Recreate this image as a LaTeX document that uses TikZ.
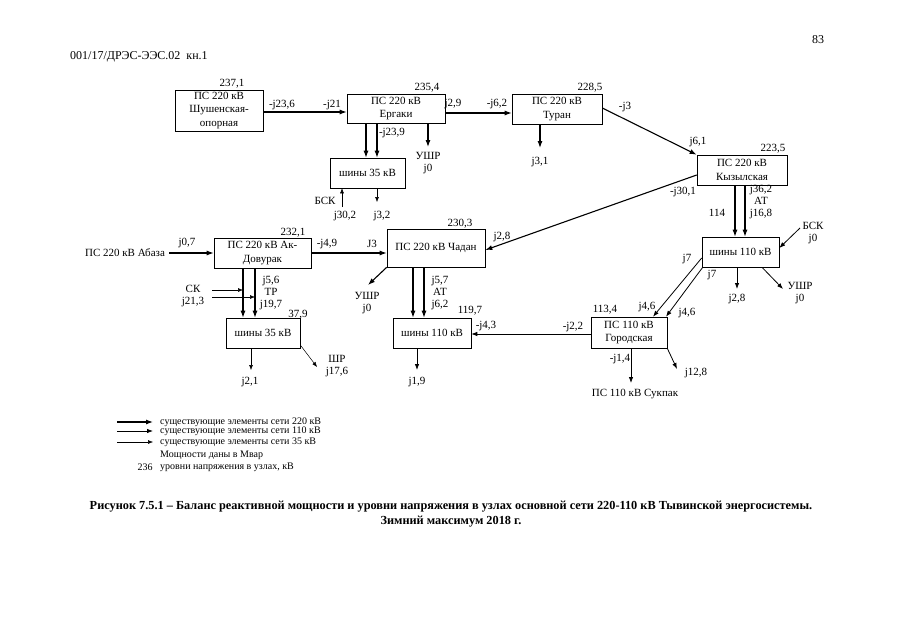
\documentclass[tikz,border=0pt]{standalone}
\usepackage{fontspec}
\setmainfont{Liberation Serif}
\usetikzlibrary{arrows.meta}
\begin{document}
\begin{tikzpicture}[x=1pt,y=-1pt,
  font=\fontsize{11}{12.2}\selectfont,
  box/.style={draw, line width=0.6pt, align=center, inner sep=1pt,
     font=\fontsize{11}{13.5}\selectfont},
  lbl/.style={inner sep=0pt, align=center},
  leg/.style={inner sep=0pt, anchor=west, font=\fontsize{10}{12}\selectfont},
  a220/.style={line width=1.1pt, -{Latex[length=7pt,width=5pt]}},
  a110/.style={line width=0.8pt, -{Latex[length=6pt,width=4.5pt]}},
  a35/.style={line width=0.5pt, -{Latex[length=5pt,width=4pt]}}]
\useasboundingbox (0,0) rectangle (905,640);
\fill[white] (0,0) rectangle (905,640);

% header
\node[lbl, font=\fontsize{12}{14}\selectfont] (pg) at (818,40) {83};
\node[lbl, anchor=west, font=\fontsize{12}{14}\selectfont] (hdr) at (70,57) {001/17/ДРЭС-ЭЭС.02\ \ кн.1};

% boxes
\node[box, minimum width=88pt, minimum height=41pt] (shush) at (219,110.5) {ПС 220 кВ\\Шушенская-\\опорная};
\node[box, minimum width=98pt, minimum height=29pt] (erg) at (396,108.5) {ПС 220 кВ\\Ергаки};
\node[box, minimum width=90pt, minimum height=30pt] (tur) at (557,109) {ПС 220 кВ\\Туран};
\node[box, minimum width=90pt, minimum height=30pt] (kyz) at (742,170) {ПС 220 кВ\\Кызылская};
\node[box, minimum width=75pt, minimum height=30pt] (sh35e) at (367.5,173) {шины 35 кВ};
\node[box, minimum width=97pt, minimum height=30pt] (ak) at (262.5,253) {ПС 220 кВ Ак-\\Довурак};
\node[box, minimum width=98pt, minimum height=38pt] (chad) at (436,248) {ПС 220 кВ Чадан};
\node[box, minimum width=74pt, minimum height=30pt] (sh35a) at (263,333) {шины 35 кВ};
\node[box, minimum width=78pt, minimum height=30pt] (sh110c) at (432,333) {шины 110 кВ};
\node[box, minimum width=77pt, minimum height=30pt] (sh110r) at (740.5,252) {шины 110 кВ};
\node[box, minimum width=76pt, minimum height=31pt] (gor) at (629,332.5) {ПС 110 кВ\\Городская};
\node[lbl] (abaza) at (125,253) {ПС 220 кВ Абаза};

% voltage levels
\node[lbl] (v1) at (232,84) {237,1};
\node[lbl] (v2) at (427,88) {235,4};
\node[lbl] (v3) at (590,88) {228,5};
\node[lbl] (v4) at (773,149) {223,5};
\node[lbl] (v5) at (293,233) {232,1};
\node[lbl] (v6) at (460,224) {230,3};
\node[lbl] (v7) at (298,315) {37,9};
\node[lbl] (v8) at (470,311) {119,7};
\node[lbl] (v9) at (717,213) {114};
\node[lbl] (v10) at (605,310) {113,4};

% free ends
\coordinate (eU) at (428,147);
\coordinate (tL) at (540,148);
\coordinate (cU) at (368,285);
\coordinate (gS) at (631,383);
\coordinate (gL) at (677,369);
\coordinate (rL) at (737,289);
\coordinate (rU) at (783,289);
\coordinate (rB) at (800,228);
\coordinate (cL) at (417,370);
\coordinate (eB) at (342,207);
\coordinate (eL) at (377,202);
\coordinate (sk1) at (212,290);
\coordinate (sk2) at (212,297);
\coordinate (sk1e) at (243,290);
\coordinate (sk2e) at (255,297);
\coordinate (aL) at (251,370);
\coordinate (aR) at (317,367);

% 220 kV
\draw[a220] ([yshift=-1.5pt]shush.east) -- ([yshift=-3.5pt]erg.west);
\draw[a220] ([yshift=-4.5pt]erg.east) -- ([yshift=-4pt]tur.west);
\draw[a220] ([yshift=1pt]tur.east) -- (kyz.north west);
\draw[a220] ([yshift=-5pt]kyz.west) -- ([yshift=-2pt]chad.east);
\draw[a220] ([xshift=4pt]abaza.east) -- (ak.west);
\draw[a220] (ak.east) -- ([yshift=-5pt]chad.west);

\draw[a220] ([xshift=-30pt]erg.south) -- ([xshift=-1.5pt]sh35e.north);
\draw[a220] ([xshift=-19pt]erg.south) -- ([xshift=9.5pt]sh35e.north);
\draw[a220] ([xshift=-7pt]kyz.south) -- ([xshift=-5.5pt]sh110r.north);
\draw[a220] ([xshift=3pt]kyz.south) -- ([xshift=4.5pt]sh110r.north);
\draw[a220] ([xshift=-23pt]chad.south) -- ([xshift=-19pt]sh110c.north);
\draw[a220] ([xshift=-12pt]chad.south) -- ([xshift=-8pt]sh110c.north);
\draw[a220] ([xshift=-19.5pt]ak.south) -- ([xshift=-20pt]sh35a.north);
\draw[a220] ([xshift=-7.5pt]ak.south) -- ([xshift=-8pt]sh35a.north);

\draw[a220] ([xshift=32pt]erg.south) -- (eU);
\draw[a220] ([xshift=-17pt]tur.south) -- (tL);
\draw[a220] (chad.south west) -- (cU);

% 110 kV
\draw[a110] ([yshift=-6pt]sh110r.west) -- ([xshift=24pt]gor.north);
\draw[a110] ([xshift=1pt]sh110r.south west) -- ([xshift=37pt]gor.north);
\draw[a110] ([yshift=-1.5pt]gor.west) -- ([yshift=-1pt]sh110c.east);
\draw[a110] ([xshift=2pt]gor.south) -- (gS);
\draw[a110] (gor.south east) -- (gL);
\draw[a110] ([xshift=-3.5pt]sh110r.south) -- (rL);
\draw[a110] ([xshift=21.5pt]sh110r.south) -- (rU);
\draw[a110] (rB) -- ([yshift=4pt]sh110r.east);
\draw[a110] ([xshift=-15pt]sh110c.south) -- (cL);

% 35 kV
\draw[a35] (eB) -- ([xshift=-25.5pt]sh35e.south);
\draw[a35] ([xshift=9.5pt]sh35e.south) -- (eL);
\draw[a35] (sk1) -- (sk1e);
\draw[a35] (sk2) -- (sk2e);
\draw[a35] ([xshift=-12pt]sh35a.south) -- (aL);
\draw[a35] ([yshift=-12pt]sh35a.east) -- (aR);

% flow labels
\node[lbl] (l1) at (282,105) {-j23,6};
\node[lbl] (l2) at (332,105) {-j21};
\node[lbl] (l3) at (453,104) {j2,9};
\node[lbl] (l4) at (497,104) {-j6,2};
\node[lbl] (l5) at (625,107) {-j3};
\node[lbl] (l6) at (698,142) {j6,1};
\node[lbl] (l7) at (683,192) {-j30,1};
\node[lbl] (l8) at (502,237) {j2,8};
\node[lbl] (l9) at (187,243) {j0,7};
\node[lbl] (l10) at (327,244) {-j4,9};
\node[lbl] (l11) at (372,244) {J3};
\node[lbl] (l12) at (392,133) {-j23,9};
\node[lbl] (l13) at (428,163) {УШР\\j0};
\node[lbl] (l14) at (540,162) {j3,1};
\node[lbl] (l15) at (325,201) {БСК};
\node[lbl] (l16) at (345,216) {j30,2};
\node[lbl] (l17) at (382,216) {j3,2};
\node[lbl] (l18) at (761,202) {j36,2\\АТ\\j16,8};
\node[lbl] (l19) at (440,293) {j5,7\\АТ\\j6,2};
\node[lbl] (l20) at (367,303) {УШР\\j0};
\node[lbl] (l21) at (417,382) {j1,9};
\node[lbl] (l22) at (486,326) {-j4,3};
\node[lbl] (l23) at (573,327) {-j2,2};
\node[lbl] (l24) at (687,259) {j7};
\node[lbl] (l25) at (712,275) {j7};
\node[lbl] (l26) at (647,307) {j4,6};
\node[lbl] (l27) at (687,313) {j4,6};
\node[lbl] (l28) at (620,359) {-j1,4};
\node[lbl] (l29) at (635,394) {ПС 110 кВ Сукпак};
\node[lbl] (l30) at (696,373) {j12,8};
\node[lbl] (l31) at (737,299) {j2,8};
\node[lbl] (l32) at (800,293) {УШР\\j0};
\node[lbl] (l33) at (813,233) {БСК\\j0};
\node[lbl] (l34) at (271,293) {j5,6\\ТР\\j19,7};
\node[lbl] (l35) at (193,296) {СК\\j21,3};
\node[lbl] (l36) at (250,382) {j2,1};
\node[lbl] (l37) at (337,366) {ШР\\j17,6};

% legend
\coordinate (lg1a) at (117,422); \coordinate (lg1b) at (153,422);
\coordinate (lg2a) at (117,431); \coordinate (lg2b) at (153,431);
\coordinate (lg3a) at (117,442); \coordinate (lg3b) at (153,442);
\draw[a220] (lg1a) -- (lg1b);
\draw[a110] (lg2a) -- (lg2b);
\draw[a35] (lg3a) -- (lg3b);
\node[leg] (t1) at (160,422) {существующие элементы сети 220 кВ};
\node[leg] (t2) at (160,431) {существующие элементы сети 110 кВ};
\node[leg] (t3) at (160,442) {существующие элементы сети 35 кВ};
\node[leg] (t4) at (160,455) {Мощности даны в Мвар};
\node[leg, anchor=center] (t5) at (145,467) {236};
\node[leg] (t6) at (160,467) {уровни напряжения в узлах, кВ};

% caption
\node[lbl, font=\bfseries\fontsize{12.3}{14}\selectfont] (cap1) at (451,507) {Рисунок 7.5.1 – Баланс реактивной мощности и уровни напряжения в узлах основной сети 220-110 кВ Тывинской энергосистемы.};
\node[lbl, font=\bfseries\fontsize{12.3}{14}\selectfont] (cap2) at (451,522) {Зимний максимум 2018 г.};
\end{tikzpicture}
\end{document}
